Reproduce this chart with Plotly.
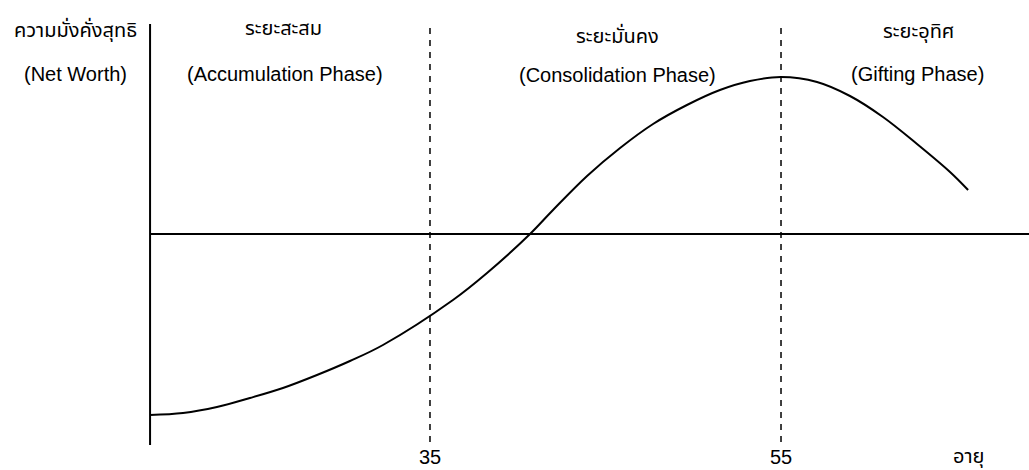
import plotly.graph_objects as go

# Curve data: age vs. net worth (arbitrary units, 0 = horizontal line)
ages = [19.05, 20.93, 22.86, 24.74, 26.62, 28.56, 30.44, 32.32, 36.31, 38.25,
        40.70, 42.01, 43.95, 45.83, 47.71, 49.64, 51.52, 53.23, 55.0, 57.05,
        58.93, 60.81, 62.75, 64.63, 65.66]
net_worth = [-181, -179, -173, -164, -154, -141, -127, -111, -66, -39,
             0, 24, 58, 86, 110, 129, 144, 153, 157, 152,
             138, 117, 90, 62, 44]

phase_bounds = [35, 55]
tick_labels = ["35", "55"]
phase_names_th = ["ระยะสะสม", "ระยะมั่นคง", "ระยะอุทิศ"]
phase_names_en = ["(Accumulation Phase)", "(Consolidation Phase)", "(Gifting Phase)"]
y_title_th = "ความมั่งคั่งสุทธิ"
y_title_en = "(Net Worth)"
x_title = "อายุ"

W, H = 1029, 470
X_RANGE = [10.50, 69.13]
Y_RANGE = [-236, 234]
axis_age = ages[0]

FONT = "Liberation Sans, Arial, Noto Sans Thai, Tahoma, sans-serif"

fig = go.Figure()
fig.add_trace(go.Scatter(x=ages, y=net_worth, mode="lines",
                         line=dict(color="black", width=2, shape="spline", smoothing=1),
                         hoverinfo="skip", showlegend=False))

shapes = [
    # vertical axis
    dict(type="line", xref="x", yref="y", x0=axis_age, x1=axis_age, y0=-211, y1=210,
         line=dict(color="black", width=2)),
    # horizontal zero line
    dict(type="line", xref="x", yref="y", x0=axis_age, x1=X_RANGE[1], y0=0, y1=0,
         line=dict(color="black", width=2)),
]
for b in phase_bounds:
    shapes.append(dict(type="line", xref="x", yref="y", x0=b, x1=b, y0=-208, y1=211,
                       line=dict(color="black", width=1.5, dash="6px,6px")))

def px(xp):
    return xp / W

def py(yp):
    return 1 - yp / H

annotations = []
def add_text(text, xp, yp, size=20, yanchor="middle"):
    annotations.append(dict(text=text, x=px(xp), y=py(yp), xref="paper", yref="paper",
                            showarrow=False, xanchor="center", yanchor=yanchor,
                            font=dict(family=FONT, size=size, color="black")))

add_text(y_title_th, 75, 30)
add_text(y_title_en, 75, 74)
th_pos = [(283, 28), (617, 35), (918, 32)]
en_pos = [(285, 74), (617, 75), (917, 74)]
for name, (xp, yp) in zip(phase_names_th, th_pos):
    add_text(name, xp, yp)
for name, (xp, yp) in zip(phase_names_en, en_pos):
    add_text(name, xp, yp)

for b, lab in zip(phase_bounds, tick_labels):
    annotations.append(dict(text=lab, x=b, y=0.0, xref="x", yref="paper",
                            showarrow=False, xanchor="center", yanchor="bottom",
                            font=dict(family=FONT, size=20, color="black")))
add_text(x_title, 968, 470, yanchor="bottom")

fig.update_layout(
    width=W, height=H,
    margin=dict(l=0, r=0, t=0, b=0),
    paper_bgcolor="white", plot_bgcolor="white",
    xaxis=dict(range=X_RANGE, visible=False, fixedrange=True),
    yaxis=dict(range=Y_RANGE, visible=False, fixedrange=True),
    shapes=shapes, annotations=annotations,
    showlegend=False,
)

fig.write_html("out.html", config={"displayModeBar": False},
               post_script="document.body.style.margin='0';document.body.style.overflow='hidden';")
